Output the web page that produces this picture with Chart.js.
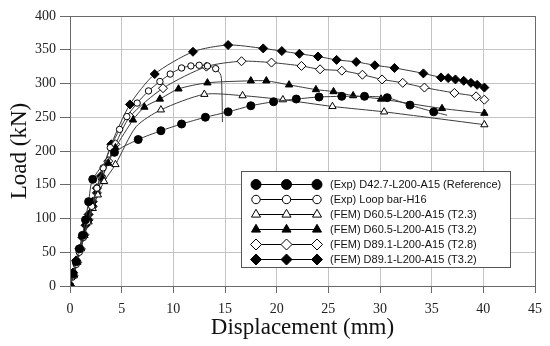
<!DOCTYPE html>
<html lang="en">
<head>
    <meta charset="UTF-8">
    <title>Load - Displacement</title>
    <script src="https://cdn.jsdelivr.net/npm/chart.js"></script>
    <style>
        body { margin: 0; background: #fff; }
        #wrap { width: 550px; height: 346px; }
    </style>
</head>
<body>
    <div id="wrap"><canvas id="ld-chart" width="550" height="346"></canvas></div>

    <script>
        // (Exp) D42.7-L200-A15 (Reference)
        const refX = [0, 0.3, 0.6, 0.9, 1.2, 1.5, 1.8, 2.2, 4.3, 6.6, 8.8, 10.8, 13.1, 15.3, 17.5, 19.7, 21.9, 24.1, 26.3, 28.5, 30.7, 32.9, 35.2, 36.5];
        const refY = [0, 18, 36, 55, 75, 98, 125, 158, 198, 217, 230, 240, 250, 258, 267, 273, 277, 280, 281, 281, 279, 268, 258, 253];
        const refNoMark = [23];

        // (Exp) Loop bar-H16
        const loopX = [0, 0.3, 0.6, 0.9, 1.3, 1.7, 2.1, 2.6, 3.2, 3.9, 4.8, 5.5, 6.5, 7.6, 8.7, 9.7, 10.8, 11.7, 12.5, 13.3, 14.1, 14.6, 14.7, 14.75];
        const loopY = [0, 15, 32, 50, 72, 95, 118, 145, 175, 205, 232, 251, 271, 289, 303, 314, 323, 326, 327, 326, 322, 312, 290, 243];
        const loopNoMark = [21, 22, 23];

        // (FEM) D60.5-L200-A15 (T2.3)
        const t23X = [0, 0.35, 0.7, 1.05, 1.4, 1.8, 2.2, 2.7, 3.3, 4.4, 6.4, 8.8, 13.0, 16.7, 20.6, 25.4, 30.4, 40.1];
        const t23Y = [0, 15, 35, 55, 75, 95, 115, 135, 155, 180, 236, 261, 284, 282, 276, 266, 258, 239];
        const t23NoMark = [10];

        // (FEM) D60.5-L200-A15 (T3.2)
        const t32X = [0, 0.35, 0.7, 1.05, 1.4, 1.8, 2.2, 2.6, 3.1, 3.7, 4.4, 6.1, 7.2, 8.7, 10.5, 13.3, 17.5, 19.0, 21.2, 23.8, 25.5, 27.4, 30.1, 36.0, 40.1];
        const t32Y = [0, 16, 36, 57, 78, 100, 120, 140, 160, 182, 205, 246, 265, 277, 292, 301, 304, 304, 298, 291, 288, 282, 277, 263, 256];

        // (FEM) D89.1-L200-A15 (T2.8)
        const t28X = [0, 0.35, 0.7, 1.05, 1.4, 1.8, 2.2, 2.6, 3.1, 3.7, 4.4, 5.8, 9.0, 13.2, 16.6, 19.5, 22.4, 24.2, 26.3, 28.3, 30.2, 32.2, 34.3, 37.2, 39.3, 40.1];
        const t28Y = [0, 15, 35, 55, 76, 98, 118, 138, 160, 185, 210, 251, 293, 325, 333, 331, 326, 321, 319, 313, 306, 301, 294, 286, 281, 276];

        // (FEM) D89.1-L200-A15 (T3.2)
        const d89X = [0, 0.3, 0.6, 0.9, 1.2, 1.5, 1.8, 2.2, 2.6, 3.0, 4.0, 5.8, 8.2, 11.9, 15.3, 18.7, 20.5, 22.2, 24.0, 25.8, 27.7, 29.5, 31.4, 34.2, 35.9, 36.6, 37.3, 38.1, 38.8, 39.4, 40.1];
        const d89Y = [0, 20, 38, 55, 72, 90, 106, 125, 145, 163, 210, 269, 314, 347, 357, 352, 348, 344, 340, 335, 332, 327, 323, 315, 309, 308, 306, 304, 301, 298, 294];

        const xTicks = [0, 5, 10, 15, 20, 25, 30, 35, 40, 45];
        const yTicks = [0, 50, 100, 150, 200, 250, 300, 350, 400];

        function pts(xs, ys) {
            return xs.map((x, i) => ({ x: x, y: ys[i] }));
        }

        function series(label, xs, ys, style, filled, radius, noMark) {
            noMark = noMark || [];
            return {
                label: label,
                data: pts(xs, ys),
                borderColor: '#3a3a3a',
                borderWidth: 1,
                backgroundColor: filled ? '#000' : '#fff',
                pointBorderColor: '#000',
                pointBackgroundColor: filled ? '#000' : '#fff',
                pointBorderWidth: 1,
                pointStyle: style,
                pointRadius: c => noMark.includes(c.dataIndex) ? 0 : radius,
                pointHoverRadius: radius,
                tension: 0.25,
                legendRadius: radius + 1
            };
        }

        const datasets = [
            series('(Exp) D42.7-L200-A15 (Reference)', refX, refY, 'circle', true, 4, refNoMark),
            series('(Exp) Loop bar-H16', loopX, loopY, 'circle', false, 3.2, loopNoMark),
            series('(FEM) D60.5-L200-A15 (T2.3)', t23X, t23Y, 'triangle', false, 4.2, t23NoMark),
            series('(FEM) D60.5-L200-A15 (T3.2)', t32X, t32Y, 'triangle', true, 4.2),
            series('(FEM) D89.1-L200-A15 (T2.8)', t28X, t28Y, 'rectRot', false, 4.5),
            series('(FEM) D89.1-L200-A15 (T3.2)', d89X, d89Y, 'rectRot', true, 4.5)
        ];

        // box around the plot + the boxed legend with three markers per row
        const boxLegend = {
            id: 'boxLegend',
            afterDraw(chart) {
                const ctx = chart.ctx;
                const a = chart.chartArea;
                ctx.save();
                ctx.strokeStyle = '#6a6a6a';
                ctx.lineWidth = 1;
                ctx.strokeRect(Math.round(a.left) + 0.5, Math.round(a.top) + 0.5,
                    Math.round(a.right - a.left), Math.round(a.bottom - a.top));

                const bx = 241, by = 171, bw = 269, bh = 96;
                ctx.fillStyle = '#fff';
                ctx.fillRect(bx, by, bw, bh);
                ctx.strokeStyle = '#555';
                ctx.strokeRect(bx + 0.5, by + 0.5, bw, bh);

                ctx.font = '11px "Liberation Sans", Arial, sans-serif';
                ctx.textBaseline = 'middle';
                chart.data.datasets.forEach((ds, i) => {
                    const y = by + 13.5 + i * 15;
                    ctx.strokeStyle = '#000';
                    ctx.lineWidth = 1;
                    ctx.beginPath();
                    ctx.moveTo(256, y);
                    ctx.lineTo(317, y);
                    ctx.stroke();
                    [256, 286.5, 317].forEach(px => {
                        ctx.fillStyle = ds.pointBackgroundColor;
                        ctx.strokeStyle = '#000';
                        ctx.lineWidth = 1;
                        Chart.helpers.drawPoint(ctx, {
                            pointStyle: ds.pointStyle,
                            radius: ds.legendRadius,
                            rotation: 0,
                            borderWidth: 1
                        }, px, y);
                    });
                    ctx.fillStyle = '#111';
                    ctx.fillText(ds.label, 330, y + 0.5);
                });
                ctx.restore();
            }
        };

        const serif = '"Liberation Serif", "Times New Roman", serif';

        const ctx = document.getElementById('ld-chart').getContext('2d');
        const ldChart = new Chart(ctx, {
            type: 'line',
            data: { datasets: datasets },
            options: {
                responsive: false,
                animation: false,
                parsing: true,
                layout: { padding: { top: 16, right: 14, bottom: 0, left: 0 } },
                plugins: {
                    legend: { display: false },
                    tooltip: { enabled: false }
                },
                scales: {
                    x: {
                        type: 'linear',
                        min: 0,
                        max: 45,
                        afterBuildTicks: s => { s.ticks = xTicks.map(v => ({ value: v })); },
                        afterFit: s => { s.height = 60; },
                        grid: { color: '#c4c4c4', tickLength: 7, tickColor: '#6a6a6a' },
                        border: { color: '#6a6a6a' },
                        ticks: { color: '#222', padding: 8, font: { family: serif, size: 14 }, maxRotation: 0 },
                        title: {
                            display: true,
                            text: 'Displacement (mm)',
                            color: '#111',
                            font: { family: serif, size: 23 },
                            padding: { top: 0, bottom: 4 }
                        }
                    },
                    y: {
                        min: 0,
                        max: 400,
                        afterBuildTicks: s => { s.ticks = yTicks.map(v => ({ value: v })); },
                        afterFit: s => { s.width = 70; },
                        grid: { color: '#c4c4c4', tickLength: 10, tickColor: '#6a6a6a' },
                        border: { color: '#6a6a6a' },
                        ticks: { color: '#222', padding: 4, font: { family: serif, size: 14 } },
                        title: {
                            display: true,
                            text: 'Load (kN)',
                            color: '#111',
                            font: { family: serif, size: 23 },
                            padding: { top: 6, bottom: 0 }
                        }
                    }
                }
            },
            plugins: [boxLegend]
        });
    </script>
</body>
</html>
